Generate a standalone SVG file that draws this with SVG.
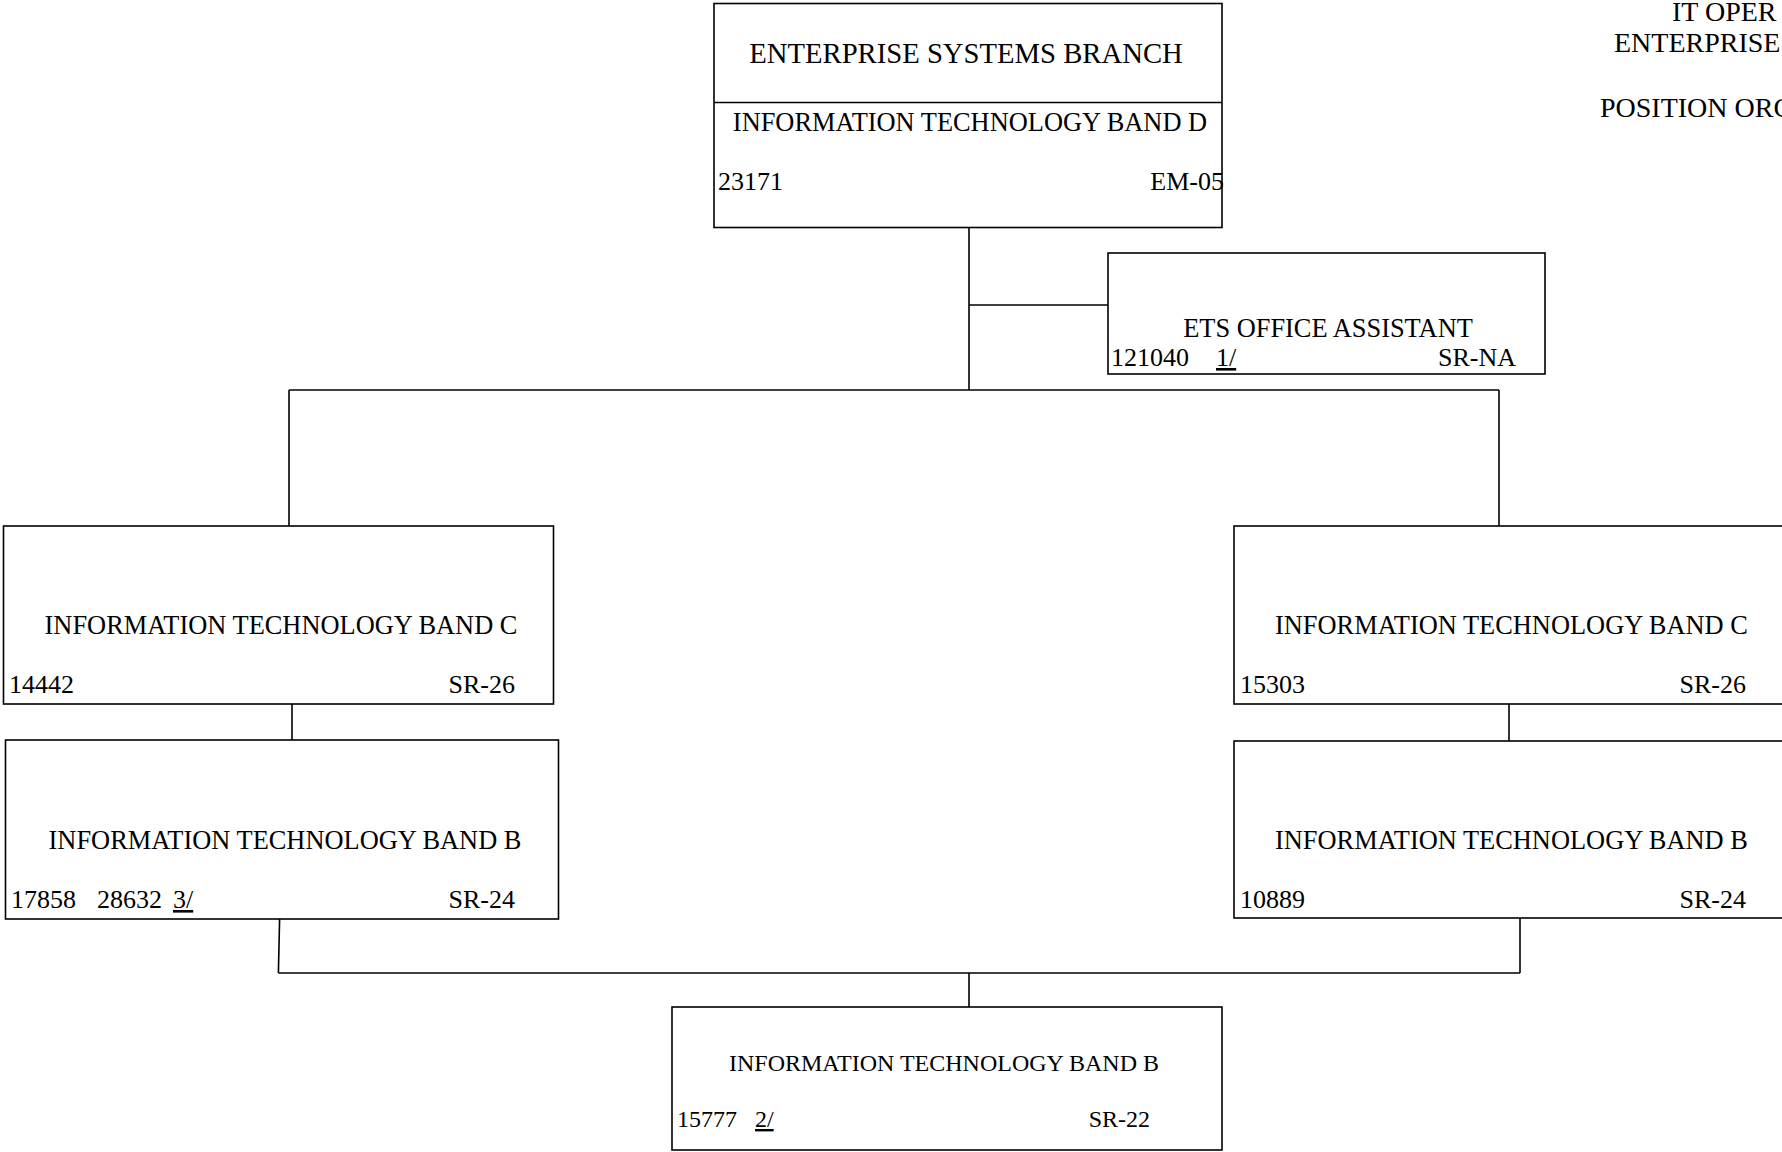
<svg xmlns="http://www.w3.org/2000/svg" width="1782" height="1152" viewBox="0 0 1782 1152">
<style>
  .box { fill: #ffffff; stroke: #000000; stroke-width: 1.6; }
  .ln { fill: none; stroke: #000000; stroke-width: 1.6; }
  text { font-family: "Liberation Serif", "Times New Roman", serif; fill: #000000; }
  .t28 { font-size: 28px; }
  .big { font-size: 28.7px; }
  .ttl { font-size: 26.4px; }
  .t26 { font-size: 26px; }
  .t24 { font-size: 24px; }
  .t25 { font-size: 25px; }
  .mid { text-anchor: middle; }
  .end { text-anchor: end; }
  .u { text-decoration: underline; }
</style>
<rect x="0" y="0" width="1782" height="1152" fill="#ffffff"/>

<g id="header">
  <text class="t28" x="1672" y="21">IT OPER</text>
  <text class="t28" x="1614" y="52">ENTERPRISE</text>
  <text class="t28" x="1600" y="117">POSITION ORG</text>
</g>

<g id="connectors">
  <line class="ln" x1="969" y1="227" x2="969" y2="390"/>
  <line class="ln" x1="969" y1="305" x2="1108" y2="305"/>
  <line class="ln" x1="289" y1="390" x2="1499" y2="390"/>
  <line class="ln" x1="289" y1="390" x2="289" y2="526"/>
  <line class="ln" x1="1499" y1="390" x2="1499" y2="526"/>
  <line class="ln" x1="292" y1="704" x2="292" y2="740"/>
  <line class="ln" x1="1509" y1="704" x2="1509" y2="741"/>
  <line class="ln" x1="279.6" y1="919" x2="278.4" y2="973"/>
  <line class="ln" x1="278.4" y1="973" x2="1520" y2="973"/>
  <line class="ln" x1="1520" y1="918" x2="1520" y2="973"/>
  <line class="ln" x1="969" y1="973" x2="969" y2="1007"/>
</g>

<g id="node-branch">
  <rect class="box" x="714" y="3.5" width="508" height="224"/>
  <line class="ln" x1="714" y1="102.5" x2="1222" y2="102.5"/>
  <text class="big mid" x="966" y="63">ENTERPRISE SYSTEMS BRANCH</text>
  <text class="ttl mid" x="970" y="131">INFORMATION TECHNOLOGY BAND D</text>
  <text class="t26" x="718" y="190">23171</text>
  <text class="t26 end" x="1224" y="190">EM-05</text>
</g>

<g id="node-ets">
  <rect class="box" x="1108" y="253" width="437" height="121"/>
  <text class="ttl mid" x="1328" y="337">ETS OFFICE ASSISTANT</text>
  <text class="t26" x="1111" y="366">121040</text>
  <text class="t26 u" x="1216" y="366">1/</text>
  <text class="t26 end" x="1516" y="366">SR-NA</text>
</g>

<g id="node-c-left">
  <rect class="box" x="3.5" y="526" width="550" height="178"/>
  <text class="ttl mid" x="281" y="634">INFORMATION TECHNOLOGY BAND C</text>
  <text class="t26" x="9" y="693">14442</text>
  <text class="t26 end" x="515" y="693">SR-26</text>
</g>

<g id="node-b-left">
  <rect class="box" x="5.5" y="740" width="553" height="179"/>
  <text class="ttl mid" x="285" y="849">INFORMATION TECHNOLOGY BAND B</text>
  <text class="t26" x="11" y="908">17858</text>
  <text class="t26" x="97" y="908">28632</text>
  <text class="t26 u" x="173" y="908">3/</text>
  <text class="t26 end" x="515" y="908">SR-24</text>
</g>

<g id="node-c-right">
  <rect class="box" x="1234" y="526" width="560" height="178"/>
  <text class="ttl" x="1275" y="634">INFORMATION TECHNOLOGY BAND C</text>
  <text class="t26" x="1240" y="693">15303</text>
  <text class="t26 end" x="1746" y="693">SR-26</text>
</g>

<g id="node-b-right">
  <rect class="box" x="1234" y="741" width="560" height="177"/>
  <text class="ttl" x="1275" y="849">INFORMATION TECHNOLOGY BAND B</text>
  <text class="t26" x="1240" y="908">10889</text>
  <text class="t26 end" x="1746" y="908">SR-24</text>
</g>

<g id="node-b-bottom">
  <rect class="box" x="672" y="1007" width="550" height="143"/>
  <text class="t24 mid" x="944" y="1071">INFORMATION TECHNOLOGY BAND B</text>
  <text class="t24" x="677" y="1127">15777</text>
  <text class="t24 u" x="755" y="1127">2/</text>
  <text class="t24 end" x="1150" y="1127">SR-22</text>
</g>
</svg>
